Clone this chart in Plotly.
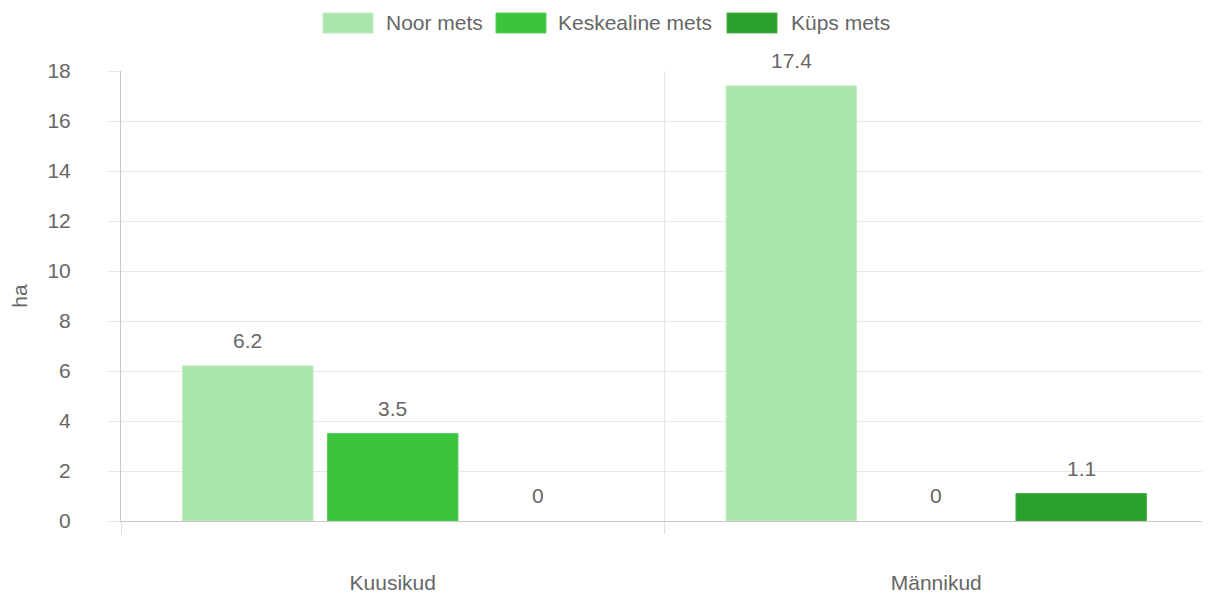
import plotly.graph_objects as go

categories = ["Kuusikud", "Männikud"]
series_names = ["Noor mets", "Keskealine mets", "Küps mets"]
noor = [6.2, 17.4]
keskealine = [3.5, 0]
kups = [0, 1.1]
y_ticks = [0, 2, 4, 6, 8, 10, 12, 14, 16, 18]
y_title = "ha"

values = [noor, keskealine, kups]
colors = ["#aae5aa", "#3bc43b", "#2ca02c"]
borders = ["#c2ecc2", "#5ccf5c", "#4cb04c"]

FONT = "Liberation Sans, Arial, sans-serif"
GREY = "#666666"
FS = 21

# page body has an 8px margin; compensate
OFF = 8
FIG_W, FIG_H = 1210 - OFF, 596 - OFF

fig = go.Figure()
for name, vals, c, b in zip(series_names, values, colors, borders):
    fig.add_trace(go.Bar(
        name=name, x=categories, y=vals,
        marker=dict(color=c, line=dict(color=b, width=[1 if v > 0 else 0 for v in vals])),
        showlegend=False, hoverinfo="x+y+name",
    ))

# value labels above bars
n = len(values)
slot = 0.8 / n
annotations = []
for i, vals in enumerate(values):
    off = (i - (n - 1) / 2) * slot
    for j, v in enumerate(vals):
        annotations.append(dict(
            x=j + off, y=v, xref="x", yref="y", text=f"{v:g}",
            showarrow=False, yanchor="bottom", yshift=12,
            font=dict(family=FONT, size=FS, color=GREY),
        ))

# custom legend (Chart.js style boxes), coordinates in page pixels
L, T, W, H = 121 - OFF, 71 - OFF, 1087, 450
def px(x):
    return (x - OFF - L) / W
def py(y):
    return (T + H - (y - OFF)) / H

shapes = []
legend_items = [(323, 384), (496, 556), (727, 789)]
for (bx, tx), name, c, b in zip(legend_items, series_names, colors, borders):
    shapes.append(dict(type="rect", xref="paper", yref="paper",
                       x0=px(bx), x1=px(bx + 50), y0=py(33), y1=py(13),
                       fillcolor=c, line=dict(color=b, width=1)))
    annotations.append(dict(x=px(tx), y=py(23), xref="paper", yref="paper",
                            text=name, showarrow=False, xanchor="left", yanchor="middle",
                            font=dict(family=FONT, size=FS, color=GREY)))

fig.update_layout(
    width=FIG_W, height=FIG_H,
    margin=dict(l=L, r=FIG_W - L - W, t=T, b=FIG_H - T - H),
    paper_bgcolor="white", plot_bgcolor="white",
    barmode="group", bargap=0.2, bargroupgap=0.1,
    font=dict(family=FONT, size=FS, color=GREY),
    annotations=annotations, shapes=shapes,
    xaxis=dict(
        type="category", tickson="boundaries", automargin=False,
        showgrid=True, gridcolor="#e5e5e5", gridwidth=1,
        ticks="outside", ticklen=12, tickcolor="#e0e0e0",
        showline=True, linecolor="#c8c8c8", linewidth=1,
        ticklabelstandoff=43,
        tickfont=dict(family=FONT, size=FS, color=GREY),
        range=[-0.5, 1.5], zeroline=False,
    ),
    yaxis=dict(
        range=[0, 18], tickvals=y_ticks, automargin=False,
        showgrid=True, gridcolor="#e8e8e8", gridwidth=1,
        ticks="outside", ticklen=13, tickcolor="#e8e8e8",
        showline=True, linecolor="#c8c8c8", linewidth=1,
        zeroline=False, ticklabelstandoff=32,
        tickfont=dict(family=FONT, size=FS, color=GREY),
        title=dict(text=y_title, font=dict(family=FONT, size=FS, color=GREY), standoff=20),
    ),
)

fig.write_html("out.html")
